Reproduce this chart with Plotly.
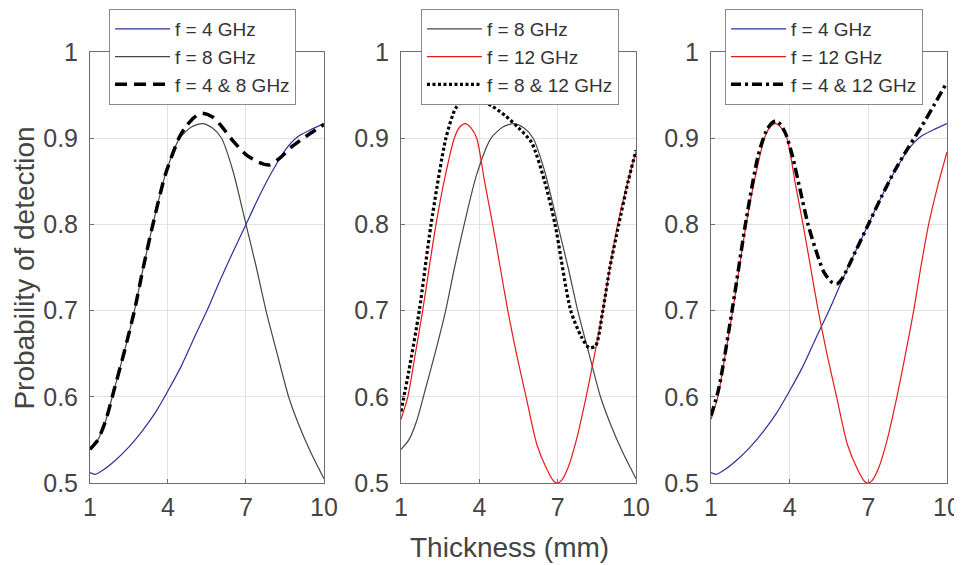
import plotly.graph_objects as go

# ---------------- data ----------------
x_4ghz = [1, 1.2, 1.5, 2, 2.5, 3, 3.5, 4, 4.5, 5, 5.5, 6, 6.5, 7, 7.5, 8, 8.5, 9, 9.5, 10]
y_4ghz = [0.512, 0.510, 0.515, 0.527, 0.542, 0.560, 0.581, 0.607, 0.635, 0.668, 0.700,
          0.735, 0.768, 0.800, 0.832, 0.861, 0.886, 0.902, 0.910, 0.917]

x_8ghz = [1, 1.3, 1.6, 1.9, 2.3, 2.71, 3.05, 3.42, 3.9, 4.45, 4.9, 5.33, 5.7, 6.06, 6.5,
          7.0, 7.4, 7.77, 8.2, 8.64, 9.0, 9.5, 10]
y_8ghz = [0.539, 0.550, 0.572, 0.605, 0.650, 0.700, 0.750, 0.800, 0.858, 0.900, 0.913,
          0.917, 0.912, 0.900, 0.862, 0.800, 0.750, 0.700, 0.650, 0.600, 0.570, 0.535, 0.505]

x_12ghz = [1, 1.26, 1.55, 1.83, 2.08, 2.34, 2.65, 3.04, 3.25, 3.46, 3.68, 3.9, 4.2, 4.51,
           4.8, 5.09, 5.42, 5.79, 6.2, 6.6, 6.85, 7.0, 7.15, 7.4, 7.7, 8.09, 8.42, 8.73,
           9.0, 9.3, 9.65, 10]
y_12ghz = [0.574, 0.600, 0.650, 0.700, 0.750, 0.800, 0.850, 0.900, 0.913, 0.917, 0.912,
           0.900, 0.850, 0.800, 0.750, 0.700, 0.650, 0.600, 0.545, 0.515, 0.502, 0.500,
           0.503, 0.518, 0.548, 0.600, 0.650, 0.700, 0.750, 0.800, 0.845, 0.884]

x_4_8 = [1, 1.3, 1.6, 1.9, 2.3, 2.71, 3.05, 3.42, 3.9, 4.45, 4.7, 5.0, 5.3, 5.7, 6.0, 6.5,
         7.0, 7.5, 7.9, 8.3, 8.8, 9.3, 9.7, 10]
y_4_8 = [0.539, 0.550, 0.572, 0.605, 0.650, 0.700, 0.750, 0.800, 0.858, 0.902, 0.914,
         0.924, 0.929, 0.925, 0.916, 0.897, 0.881, 0.872, 0.869, 0.877, 0.891, 0.902,
         0.910, 0.916]

x_8_12 = [1, 1.3, 1.7, 2.15, 2.72, 3.1, 3.5, 4.0, 4.5, 5.0, 5.5, 6.0, 6.5, 6.9, 7.5, 7.9,
          8.2, 8.45, 8.73, 9.0, 9.34, 9.7, 10]
y_8_12 = [0.583, 0.630, 0.700, 0.800, 0.900, 0.935, 0.946, 0.945, 0.937, 0.926, 0.912,
          0.895, 0.850, 0.800, 0.700, 0.670, 0.657, 0.659, 0.700, 0.750, 0.800, 0.850, 0.886]

x_4_12 = [1, 1.3, 1.83, 2.34, 2.8, 3.1, 3.3, 3.46, 3.65, 3.85, 4.1, 4.4, 4.7, 5.0, 5.3,
          5.6, 5.8, 6.0, 6.5, 7.0, 7.5, 8.0, 8.5, 9.0, 9.5, 10]
y_4_12 = [0.578, 0.610, 0.705, 0.805, 0.880, 0.908, 0.917, 0.920, 0.916, 0.905, 0.880,
          0.840, 0.800, 0.770, 0.745, 0.733, 0.731, 0.737, 0.768, 0.800, 0.832, 0.862,
          0.888, 0.912, 0.938, 0.965]

x_ticks = [1, 4, 7, 10]
y_ticks = [0.5, 0.6, 0.7, 0.8, 0.9, 1.0]
y_tick_labels = ["0.5", "0.6", "0.7", "0.8", "0.9", "1"]

# ---------------- styles ----------------
BLUE = "#2f2f9a"
GRAY = "#424a44"
RED = "#e8191e"
FONT = "Liberation Sans, Arial, sans-serif"
TXT = "#444444"

fig = go.Figure()

def add(x, y, name, color, width, dash, axis, legend):
    fig.add_trace(go.Scatter(
        x=x, y=y, name=name, mode="lines",
        line=dict(color=color, width=width, dash=dash, shape="spline", smoothing=0.7),
        xaxis="x" + axis, yaxis="y" + axis, legend=legend))

# panel 1
add(x_4ghz, y_4ghz, "f = 4 GHz", BLUE, 1.2, "solid", "", "legend")
add(x_8ghz, y_8ghz, "f = 8 GHz", GRAY, 1.2, "solid", "", "legend")
add(x_4_8, y_4_8, "f = 4 & 8 GHz", "black", 3.5, "12px,7px", "", "legend")
# panel 2
add(x_8ghz, y_8ghz, "f = 8 GHz", GRAY, 1.2, "solid", "2", "legend2")
add(x_12ghz, y_12ghz, "f = 12 GHz", RED, 1.2, "solid", "2", "legend2")
add(x_8_12, y_8_12, "f = 8 & 12 GHz", "black", 3.2, "3px,2.5px", "2", "legend2")
# panel 3
add(x_4ghz, y_4ghz, "f = 4 GHz", BLUE, 1.2, "solid", "3", "legend3")
add(x_12ghz, y_12ghz, "f = 12 GHz", RED, 1.2, "solid", "3", "legend3")
add(x_4_12, y_4_12, "f = 4 & 12 GHz", "black", 3.5, "10px,4px,3px,4px", "3", "legend3")

domains = [[0.0, 0.2730], [0.3629, 0.6371], [0.7246, 1.0]]

axis_common = dict(
    showline=True, mirror=True, linecolor="#6e6e6e", linewidth=1,
    showgrid=True, gridcolor="#e3e3e3", gridwidth=1,
    ticks="inside", ticklen=4, tickcolor="#6e6e6e",
    tickfont=dict(family=FONT, size=25, color=TXT),
    zeroline=False, automargin=False,
)

# page body adds an 8px offset, so the figure is sized to the visible area
layout = dict(
    width=954, height=557,
    margin=dict(l=82, r=15, t=44, b=82, autoexpand=False),
    plot_bgcolor="white", paper_bgcolor="white",
    font=dict(family=FONT, color=TXT),
)

for i, dom in enumerate(domains):
    sfx = "" if i == 0 else str(i + 1)
    layout["xaxis" + sfx] = dict(axis_common, domain=dom, range=[1, 10],
                                 tickvals=x_ticks, anchor="y" + sfx,
                                 ticklabelstandoff=2)
    layout["yaxis" + sfx] = dict(axis_common, domain=[0, 1], range=[0.5, 1.0],
                                 tickvals=y_ticks, ticktext=y_tick_labels,
                                 anchor="x" + sfx, ticklabelstandoff=6)

legend_common = dict(
    bgcolor="white", bordercolor="#8a8a8a", borderwidth=1,
    font=dict(family=FONT, size=19, color="#333333"),
    xref="container", yref="container",
    xanchor="left", yanchor="top", y=0.998, itemwidth=55,
    tracegroupgap=0,
)
layout["legend"] = dict(legend_common, x=0.1059)
layout["legend2"] = dict(legend_common, x=0.4329)
layout["legend3"] = dict(legend_common, x=0.7516)

layout["annotations"] = [
    dict(text="Thickness (mm)", xref="paper", yref="paper", x=0.49, y=-0.150,
         showarrow=False, font=dict(family=FONT, size=28, color=TXT),
         xanchor="center", yanchor="middle"),
    dict(text="Probability of detection", xref="paper", yref="paper", x=-0.0775, y=0.4988,
         showarrow=False, textangle=-90, font=dict(family=FONT, size=28, color=TXT),
         xanchor="center", yanchor="middle"),
]

fig.update_layout(**layout)
fig.write_html("out.html")
